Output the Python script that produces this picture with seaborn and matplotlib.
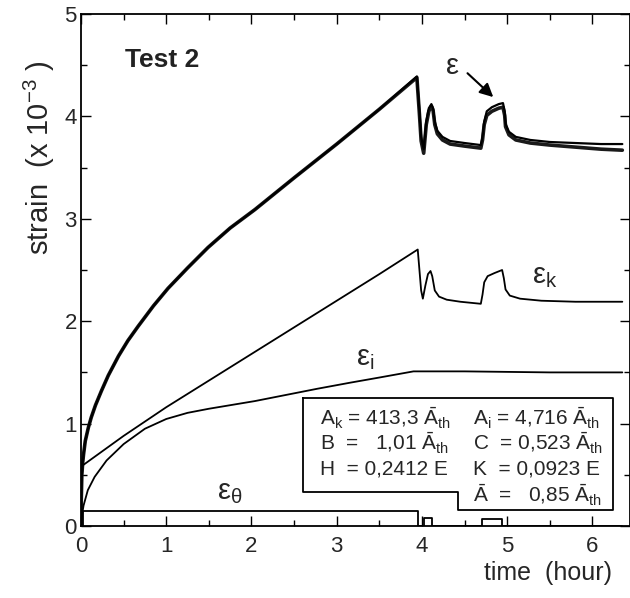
import matplotlib
matplotlib.use("Agg")
import matplotlib.pyplot as plt
import seaborn as sns
import pandas as pd
from matplotlib.ticker import MultipleLocator

# total strain, model and measured (x 10^-3), time in hours
eps_t = [0, 0.003, 0.01, 0.02, 0.03, 0.05, 0.086, 0.12, 0.17, 0.24, 0.32, 0.44, 0.55, 0.67,
         0.85, 1.02, 1.25, 1.49, 1.75, 2.04, 2.5, 3.0, 3.5, 3.94, 3.97, 3.99, 4.02, 4.05, 4.08,
         4.11, 4.13, 4.15, 4.18, 4.24, 4.33, 4.5, 4.69, 4.71, 4.73, 4.76, 4.82, 4.9, 4.95,
         4.97, 4.98, 5.02, 5.1, 5.27, 5.5, 5.8, 6.1, 6.35]
eps_model = [0, 0.25, 0.5, 0.62, 0.70, 0.83, 0.96, 1.06, 1.18, 1.32, 1.47, 1.66, 1.81, 1.95,
             2.15, 2.32, 2.52, 2.72, 2.91, 3.09, 3.40, 3.73, 4.07, 4.39, 4.05, 3.80, 3.68, 3.95,
             4.08, 4.12, 4.08, 3.95, 3.86, 3.80, 3.76, 3.74, 3.72, 3.80, 3.95, 4.05, 4.09, 4.12,
             4.13, 4.05, 3.93, 3.85, 3.80, 3.77, 3.75, 3.74, 3.73, 3.73]
eps_meas = [0, 0.25, 0.5, 0.62, 0.70, 0.83, 0.96, 1.06, 1.18, 1.32, 1.47, 1.66, 1.81, 1.95,
            2.15, 2.32, 2.52, 2.72, 2.91, 3.09, 3.40, 3.73, 4.07, 4.38, 4.02, 3.76, 3.64, 3.92,
            4.05, 4.10, 4.06, 3.92, 3.83, 3.77, 3.73, 3.71, 3.69, 3.77, 3.92, 4.01, 4.05, 4.08,
            4.09, 4.01, 3.90, 3.82, 3.77, 3.74, 3.72, 3.70, 3.68, 3.67]

# kinematic part
epsk_t = [0, 0.5, 1.0, 1.5, 2.0, 2.5, 3.0, 3.5, 3.95, 3.97, 3.99, 4.01, 4.04, 4.07, 4.10,
          4.12, 4.15, 4.20, 4.29, 4.45, 4.69, 4.71, 4.73, 4.77, 4.85, 4.94, 4.96, 4.98,
          5.03, 5.15, 5.4, 5.8, 6.35]
epsk = [0.58, 0.88, 1.16, 1.42, 1.68, 1.94, 2.20, 2.46, 2.70, 2.50, 2.30, 2.22, 2.35, 2.46,
        2.49, 2.44, 2.30, 2.24, 2.21, 2.19, 2.17, 2.26, 2.38, 2.44, 2.47, 2.50, 2.42, 2.31,
        2.25, 2.22, 2.20, 2.19, 2.19]

# isotropic part
epsi_t = [0, 0.01, 0.03, 0.08, 0.16, 0.3, 0.5, 0.75, 1.0, 1.25, 1.5, 2.04, 2.77, 3.16,
          3.5, 3.9, 4.5, 5.5, 6.35]
epsi = [0, 0.10, 0.20, 0.35, 0.48, 0.64, 0.80, 0.95, 1.045, 1.105, 1.145, 1.22, 1.34, 1.40,
        1.45, 1.51, 1.51, 1.50, 1.50]

# elastic part (step shaped)
epse_t = [0, 0.02, 3.95, 4.02, 4.12, 4.70, 4.94, 6.35]
epse = [0, 0.15, 0.0, 0.08, 0.0, 0.07, 0.0, 0.0]

# parameter box outline (data coords)
box_t = [2.60, 6.24, 6.24, 4.42, 4.42, 2.60, 2.60]
box_strain = [1.25, 1.25, 0.155, 0.155, 0.33, 0.33, 1.25]

params_left = [r"A$_\mathrm{k}$ = 413,3 $\bar{\mathrm{A}}_\mathrm{th}$",
               r"B  =   1,01 $\bar{\mathrm{A}}_\mathrm{th}$",
               r"H  = 0,2412 E"]
params_right = [r"A$_\mathrm{i}$ = 4,716 $\bar{\mathrm{A}}_\mathrm{th}$",
                r"C  = 0,523 $\bar{\mathrm{A}}_\mathrm{th}$",
                r"K  = 0,0923 E",
                r"$\bar{\mathrm{A}}$  =   0,85 $\bar{\mathrm{A}}_\mathrm{th}$"]
row_y = [1.05, 0.81, 0.56, 0.30]

sns.set_style("ticks")
plt.rcParams['font.family'] = ['Liberation Sans', 'DejaVu Sans']
plt.rcParams['mathtext.fontset'] = 'custom'
plt.rcParams['mathtext.rm'] = 'Liberation Sans'
plt.rcParams['mathtext.it'] = 'Liberation Sans:italic'
plt.rcParams['mathtext.bf'] = 'Liberation Sans:bold'

fig = plt.figure(figsize=(6.3, 5.98), dpi=100)
ax = fig.add_axes([81 / 630, 72 / 598, 549 / 630, 512 / 598])

df_eps = pd.DataFrame({'t': eps_t, 'model': eps_model, 'meas': eps_meas})
sns.lineplot(data=df_eps, x='t', y='meas', ax=ax, color='#1a1a1a', lw=2.6, estimator=None)
sns.lineplot(data=df_eps, x='t', y='model', ax=ax, color='black', lw=1.6, estimator=None)
sns.lineplot(x=epsk_t, y=epsk, ax=ax, color='black', lw=1.3, estimator=None)
sns.lineplot(x=epsi_t, y=epsi, ax=ax, color='black', lw=1.3, estimator=None)
sns.lineplot(x=epse_t, y=epse, ax=ax, color='black', lw=1.3, estimator=None,
             drawstyle='steps-post')

ax.plot(box_t, box_strain, color='black', lw=1.3)
for txt, y in zip(params_left, row_y):
    ax.text(2.80, y, txt, fontsize=15, va='center', ha='left')
for txt, y in zip(params_right, row_y):
    ax.text(4.60, y, txt, fontsize=15, va='center', ha='left')

ax.text(0.52, 4.55, "Test 2", fontsize=19, fontweight='bold', color='#222222',
        va='center', ha='left')
ax.text(4.36, 4.49, "ε", fontsize=21, va='center', ha='center')
ax.annotate('', xy=(4.86, 4.17), xytext=(4.51, 4.44),
            arrowprops=dict(arrowstyle='-|>', color='black', lw=1.5, mutation_scale=20))
ax.text(5.44, 2.44, r"ε$_\mathrm{k}$", fontsize=21, va='center', ha='center')
ax.text(3.33, 1.64, r"ε$_\mathrm{i}$", fontsize=21, va='center', ha='center')
ax.text(1.75, 0.33, r"ε$_\mathrm{θ}$", fontsize=21, va='center', ha='center')

ax.set_xlim(0, 6.44)
ax.set_ylim(0, 5)
ax.xaxis.set_major_locator(MultipleLocator(1))
ax.xaxis.set_minor_locator(MultipleLocator(0.5))
ax.yaxis.set_major_locator(MultipleLocator(1))
ax.yaxis.set_minor_locator(MultipleLocator(0.5))
ax.tick_params(which='both', direction='in', top=True, right=True, width=1.0, color='black')
ax.tick_params(which='major', length=7)
ax.tick_params(which='minor', length=4.5)
ax.tick_params(axis='x', labelsize=16, pad=7)
ax.tick_params(axis='y', labelsize=16, pad=3)
for s in ax.spines.values():
    s.set_visible(True)
    s.set_linewidth(1.3)
    s.set_color('black')

ax.set_ylabel(r"strain  (x 10$^{-3}$ )", fontsize=21, va='center')
ax.yaxis.set_label_coords(-0.075, 0.72)
ax.set_xlabel("time  (hour)", fontsize=18, va='center')
ax.xaxis.set_label_coords(0.85, -0.092)

fig.savefig("out.png", dpi=100)
